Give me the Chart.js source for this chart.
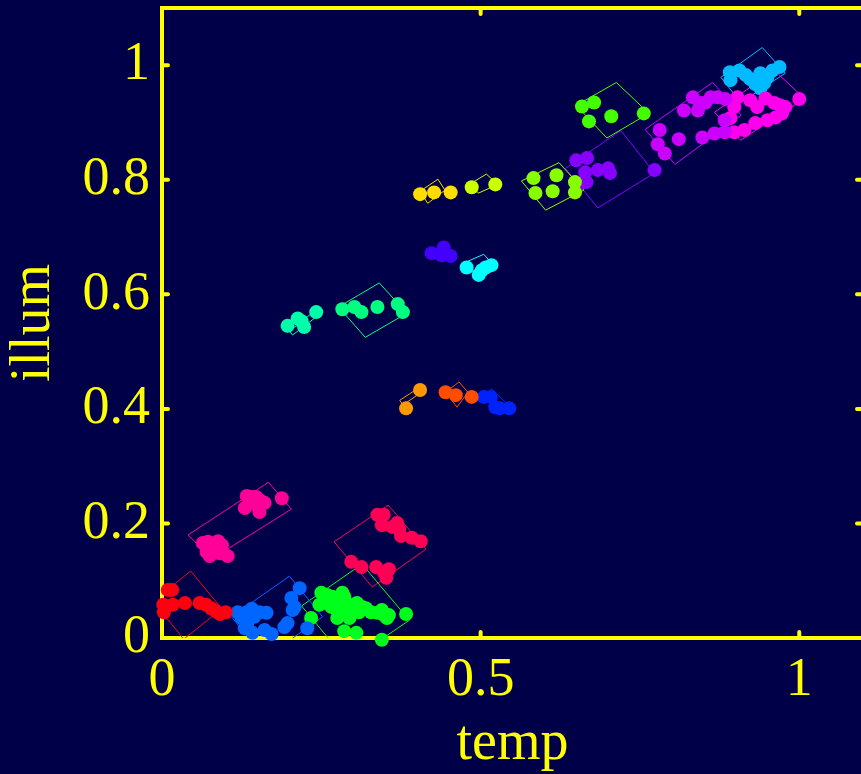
<!DOCTYPE html>
<html>
<head>
<meta charset="utf-8">
<script src="https://cdn.jsdelivr.net/npm/chart.js@4"></script>
<style>
  html, body { margin: 0; padding: 0; background: #000048; overflow: hidden; }
  canvas { display: block; background: #000048; }
</style>
</head>
<body>
<canvas id="chart" width="870" height="774"></canvas>
<script>
// axis ticks
const xTicks = [0, 0.5, 1];
const yTicks = [0, 0.2, 0.4, 0.6, 0.8, 1];

// cluster points [temp, illum] and bounding boxes (4 corners)
const c01 = [[0.009,0.084],[0.016,0.084],[0.002,0.058],[0.017,0.058],[0.036,0.061],[0.003,0.045],[0.059,0.061],[0.069,0.058],[0.077,0.052],[0.084,0.047],[0.091,0.042],[0.100,0.045]];
const b01 = [[0.045,0.117],[0.094,0.051],[0.034,-0.002],[-0.014,0.064]];

const c02 = [[0.064,0.166],[0.072,0.168],[0.080,0.164],[0.088,0.169],[0.094,0.162],[0.070,0.150],[0.075,0.143],[0.084,0.154],[0.091,0.148],[0.103,0.143],
             [0.133,0.248],[0.141,0.246],[0.148,0.246],[0.153,0.241],[0.161,0.236],[0.148,0.232],[0.153,0.220],[0.130,0.227],[0.188,0.244]];
const b02 = [[0.167,0.272],[0.203,0.225],[0.078,0.138],[0.041,0.180]];

const c03 = [[0.119,0.045],[0.133,0.045],[0.141,0.051],[0.153,0.045],[0.164,0.044],[0.125,0.035],[0.138,0.035],[0.145,0.037],[0.134,0.026],[0.130,0.017],
             [0.142,0.009],[0.161,0.014],[0.172,0.007],[0.192,0.019],[0.197,0.026],[0.205,0.049],[0.203,0.070],[0.216,0.087],[0.208,0.054],[0.228,0.017]];
const b03 = [[0.200,0.108],[0.252,0.037],[0.161,-0.035],[0.109,0.037]];

const c04 = [[0.250,0.079],[0.259,0.075],[0.267,0.072],[0.275,0.070],[0.283,0.079],[0.286,0.072],[0.247,0.058],[0.258,0.061],[0.266,0.054],[0.273,0.058],
             [0.278,0.052],[0.286,0.049],[0.294,0.058],[0.302,0.054],[0.306,0.061],[0.314,0.054],[0.320,0.052],[0.309,0.045],[0.328,0.045],[0.338,0.044],
             [0.345,0.049],[0.348,0.040],[0.356,0.040],[0.353,0.035],[0.234,0.035],[0.275,0.035],[0.294,0.035],[0.286,0.012],[0.305,0.009],[0.345,-0.003],[0.383,0.042]];
const b04 = [[0.314,0.129],[0.388,0.031],[0.292,-0.042],[0.219,0.056]];

const c05 = [[0.338,0.215],[0.348,0.215],[0.345,0.197],[0.361,0.194],[0.369,0.201],[0.372,0.190],[0.375,0.178],[0.392,0.175],[0.406,0.169],
             [0.297,0.133],[0.313,0.124],[0.336,0.124],[0.348,0.115],[0.356,0.120],[0.352,0.105]];
const b05 = [[0.355,0.232],[0.414,0.155],[0.330,0.089],[0.270,0.168]];

const c06 = [[0.405,0.433],[0.383,0.401]];
const b06 = [[0.373,0.415],[0.402,0.436],[0.406,0.428],[0.378,0.407]];

const c07 = [[0.445,0.429],[0.461,0.424],[0.486,0.421]];
const b07 = [[0.466,0.447],[0.480,0.429],[0.463,0.403],[0.445,0.429]];

const c08 = [[0.505,0.421],[0.516,0.421],[0.523,0.403],[0.530,0.401],[0.545,0.401]];
const b08 = [[0.517,0.435],[0.547,0.403],[0.541,0.396],[0.511,0.428]];

const c09 = [[0.197,0.545],[0.213,0.558],[0.219,0.553],[0.223,0.543],[0.242,0.569]];
const b09 = [[0.200,0.536],[0.242,0.573],[0.247,0.565],[0.205,0.529]];

const c10 = [[0.283,0.574],[0.302,0.578],[0.313,0.569],[0.338,0.578],[0.370,0.583],[0.378,0.569]];
const b10 = [[0.341,0.620],[0.384,0.567],[0.319,0.525],[0.277,0.578]];

const c11 = [[0.423,0.672],[0.442,0.682],[0.439,0.668],[0.453,0.667]];
const b11 = [[0.430,0.668],[0.447,0.676],[0.452,0.668],[0.435,0.660]];

const c12 = [[0.478,0.647],[0.497,0.634],[0.502,0.642],[0.508,0.647],[0.517,0.651]];
const b12 = [[0.470,0.653],[0.505,0.670],[0.516,0.656],[0.481,0.637]];

const c13 = [[0.405,0.775],[0.427,0.778],[0.453,0.778]];
const b13 = [[0.405,0.780],[0.433,0.801],[0.444,0.782],[0.417,0.759]];

const c14 = [[0.486,0.787],[0.523,0.792]];
const b14 = [[0.481,0.791],[0.509,0.810],[0.527,0.792],[0.497,0.777]];

const c15 = [[0.583,0.803],[0.619,0.808],[0.586,0.777],[0.613,0.780],[0.648,0.796],[0.648,0.778]];
const b15 = [[0.623,0.830],[0.662,0.782],[0.602,0.747],[0.564,0.798]];

const c16 = [[0.659,0.928],[0.678,0.935],[0.670,0.902],[0.705,0.911],[0.756,0.916]];
const b16 = [[0.713,0.970],[0.764,0.916],[0.698,0.873],[0.650,0.930]];

const c17 = [[0.650,0.834],[0.667,0.838],[0.664,0.813],[0.666,0.796],[0.656,0.794],[0.684,0.817],[0.700,0.820],[0.703,0.812],[0.773,0.817]];
const b17 = [[0.720,0.886],[0.773,0.812],[0.684,0.751],[0.633,0.820]];

const c18 = [[0.781,0.887],[0.778,0.862],[0.789,0.846],[0.811,0.871],[0.848,0.874],[0.867,0.881],[0.883,0.883],[0.883,0.904],
             [0.819,0.921],[0.833,0.944],[0.844,0.934],[0.841,0.921],[0.853,0.935],[0.861,0.944],[0.872,0.944],[0.884,0.941]];
const b18 = [[0.864,0.970],[0.909,0.913],[0.805,0.827],[0.758,0.888]];

const c19 = [[0.903,0.944],[0.923,0.939],[0.934,0.927],[0.947,0.942],[0.961,0.934],[0.970,0.930],[0.978,0.927],[1.000,0.941],
             [0.931,0.899],[0.950,0.904],[0.963,0.909],[0.973,0.916],[0.914,0.887],[0.898,0.883],[0.892,0.908],[0.898,0.927]];
const b19 = [[0.961,0.991],[1.008,0.942],[0.908,0.869],[0.867,0.918]];

const c20 = [[0.891,0.988],[0.892,0.974],[0.906,0.991],[0.916,0.983],[0.923,0.976],[0.931,0.967],[0.939,0.960],[0.945,0.969],
             [0.950,0.979],[0.958,0.991],[0.969,0.997],[0.939,0.986]];
const b20 = [[0.942,1.031],[0.978,0.986],[0.908,0.935],[0.877,0.979]];

const clusterPoints = [c01, c02, c03, c04, c05, c06, c07, c08, c09, c10, c11, c12, c13, c14, c15, c16, c17, c18, c19, c20];
const clusterBoxes  = [b01, b02, b03, b04, b05, b06, b07, b08, b09, b10, b11, b12, b13, b14, b15, b16, b17, b18, b19, b20];
const clusterColors = ['#ff0010', '#ff0099', '#0066ff', '#00ff1a', '#ff0055', '#ff9900', '#ff4d00', '#0022ff', '#00ffaa', '#00ff80',
                       '#4400ff', '#00ffff', '#ffdd00', '#ccff00', '#88ff00', '#44ff00', '#8800ff', '#cc00ff', '#ff00ee', '#00bbff'];

const axisColor = '#ffff00';
const serif = '"Liberation Serif", "Times New Roman", serif';

const toXY = arr => arr.map(p => ({ x: p[0], y: p[1] }));

const datasets = [];
clusterPoints.forEach((pts, i) => {
    const col = clusterColors[i];
    const box = clusterBoxes[i];
    datasets.push({
        type: 'scatter',
        data: toXY(pts),
        backgroundColor: col,
        borderWidth: 0,
        pointRadius: 7,
        pointHoverRadius: 7,
        clip: false,
        order: 0
    });
    datasets.push({
        type: 'scatter',
        data: toXY(box.concat([box[0]])),
        showLine: true,
        borderColor: col,
        borderWidth: 1,
        pointRadius: 0,
        fill: false,
        order: 1
    });
});

// box frame with short inward ticks, drawn under the markers
const framePlugin = {
    id: 'frame',
    beforeDatasetsDraw(chart) {
        const { ctx, chartArea: a, scales } = chart;
        ctx.save();
        ctx.strokeStyle = axisColor;
        ctx.lineWidth = 4;
        ctx.strokeRect(a.left, a.top, a.right - a.left, a.bottom - a.top);
        ctx.lineCap = 'round';
        ctx.beginPath();
        xTicks.forEach(v => {
            const px = scales.x.getPixelForValue(v);
            ctx.moveTo(px, a.bottom); ctx.lineTo(px, a.bottom - 6);
            ctx.moveTo(px, a.top); ctx.lineTo(px, a.top + 6);
        });
        yTicks.forEach(v => {
            const py = scales.y.getPixelForValue(v);
            ctx.moveTo(a.left, py); ctx.lineTo(a.left + 6, py);
            ctx.moveTo(a.right, py); ctx.lineTo(a.right - 6, py);
        });
        ctx.stroke();
        ctx.restore();
    }
};

new Chart(document.getElementById('chart'), {
    type: 'scatter',
    data: { datasets: datasets },
    options: {
        responsive: false,
        animation: false,
        events: [],
        layout: { padding: { top: 8, right: 4, left: 0, bottom: 0 } },
        plugins: { legend: { display: false }, tooltip: { enabled: false } },
        scales: {
            x: {
                type: 'linear',
                min: 0,
                max: 1.1,
                afterBuildTicks: s => { s.ticks = xTicks.map(v => ({ value: v })); },
                afterFit: s => { s.height = 136; s.paddingLeft = 0; s.paddingRight = 0; },
                grid: { display: false, drawTicks: false },
                border: { display: false },
                ticks: {
                    color: axisColor,
                    font: { family: serif, size: 54 },
                    padding: 10,
                    maxRotation: 0,
                    callback: v => String(v)
                },
                title: {
                    display: true,
                    text: 'temp',
                    color: axisColor,
                    font: { family: serif, size: 56, lineHeight: 1 },
                    padding: { top: 0, bottom: 2 }
                }
            },
            y: {
                type: 'linear',
                min: 0,
                max: 1.1,
                afterBuildTicks: s => { s.ticks = yTicks.map(v => ({ value: v })); },
                afterFit: s => { s.width = 162; s.paddingTop = 0; s.paddingBottom = 0; },
                grid: { display: false, drawTicks: false },
                border: { display: false },
                ticks: {
                    color: axisColor,
                    font: { family: serif, size: 54 },
                    padding: 12,
                    callback: v => String(v)
                },
                title: {
                    display: true,
                    text: 'illum',
                    color: axisColor,
                    font: { family: serif, size: 56, lineHeight: 1 },
                    padding: { top: 6, bottom: 0 }
                }
            }
        }
    },
    plugins: [framePlugin]
});
</script>
</body>
</html>
